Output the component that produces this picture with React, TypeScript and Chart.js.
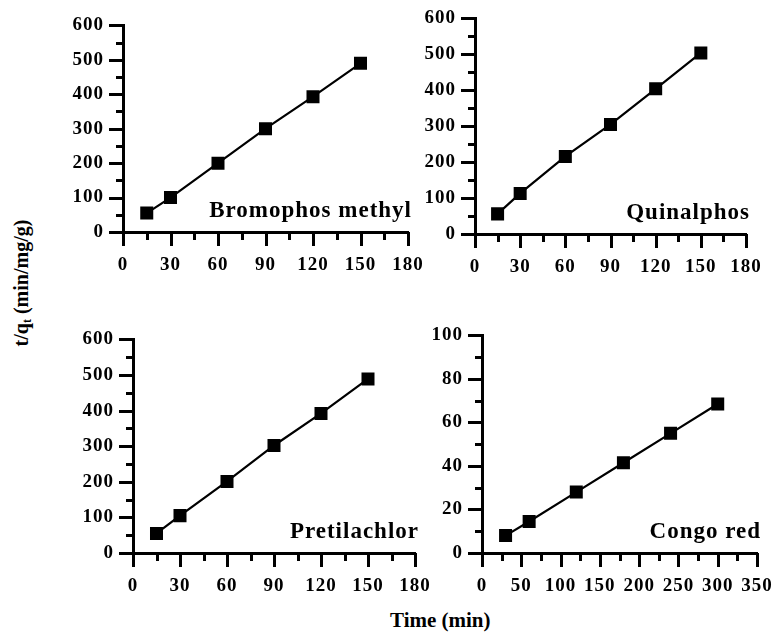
import React, { useEffect, useRef } from "react";
import { Chart, registerables } from "chart.js";

Chart.register(...registerables);

// ---- data ----
const timeShort = [15, 30, 60, 90, 120, 150];
const bromophosMethyl = [55, 100, 200, 300, 393, 490];
const quinalphos = [56, 113, 216, 305, 404, 504];
const pretilachlor = [55, 105, 201, 302, 392, 489];
const timeCongo = [30, 60, 120, 180, 240, 300];
const congoRed = [8, 14.5, 28, 41.5, 55, 68.5];

const panelLabels = ["Bromophos methyl", "Quinalphos", "Pretilachlor", "Congo red"];
const xTitle = "Time (min)";

const FONT = '"Liberation Serif", "Times New Roman", serif';

const YW = 64; // y scale width
const XH = 50; // x scale height
const PT = 14; // top padding
const PR = 24; // right padding

type PanelProps = {
  area: { l: number; r: number; t: number; b: number };
  label: string;
  xs: number[];
  ys: number[];
  xMax: number;
  xStep: number;
  xMajor: number;
  yMax: number;
  yStep: number;
  yMajor: number;
};

const isMajor = (v: number, m: number) => Math.abs(v / m - Math.round(v / m)) < 1e-6;

function Panel(p: PanelProps) {
  const ref = useRef<HTMLCanvasElement | null>(null);
  const w = Math.round(p.area.r - p.area.l + YW + PR);
  const h = Math.round(p.area.b - p.area.t + PT + XH);
  const left = Math.round(p.area.l - YW);
  const top = Math.round(p.area.t - PT);

  useEffect(() => {
    if (!ref.current) return;
    const extras = {
      id: "extras",
      beforeDraw(chart: any) {
        try {
          chart.ctx.letterSpacing = "1px";
        } catch (e) {}
      },
      afterDraw(chart: any) {
        const ctx = chart.ctx;
        const ca = chart.chartArea;
        const xs = chart.scales.x;
        const ys = chart.scales.y;
        ctx.save();
        ctx.strokeStyle = "#000";
        ctx.lineWidth = 3;
        ctx.lineCap = "butt";
        for (const t of xs.ticks) {
          const v = t.value;
          const len = isMajor(v, p.xMajor) ? 14 : 8;
          const px = Math.round(xs.getPixelForValue(v)) + 0.5;
          ctx.beginPath();
          ctx.moveTo(px, ca.bottom);
          ctx.lineTo(px, ca.bottom + len);
          ctx.stroke();
        }
        for (const t of ys.ticks) {
          const v = t.value;
          const len = isMajor(v, p.yMajor) ? 14 : 7;
          const py = Math.round(ys.getPixelForValue(v)) + 0.5;
          ctx.beginPath();
          ctx.moveTo(ca.left - len, py);
          ctx.lineTo(ca.left, py);
          ctx.stroke();
        }
        // panel label
        ctx.fillStyle = "#000";
        ctx.font = `bold 23px ${FONT}`;
        try {
          (ctx as any).letterSpacing = "1px";
        } catch (e) {}
        ctx.textAlign = "right";
        ctx.textBaseline = "alphabetic";
        ctx.fillText(p.label, ca.right + 4, ca.bottom - 15);
        ctx.restore();
      },
    };

    const tickFont = { family: FONT, size: 19, weight: "bold" as const };
    const chart = new Chart(ref.current, {
      type: "scatter",
      data: {
        datasets: [
          {
            data: p.xs.map((x, i) => ({ x, y: p.ys[i] })),
            showLine: true,
            borderColor: "#000",
            borderWidth: 2.2,
            backgroundColor: "#000",
            pointStyle: "rect",
            pointRadius: 9.2,
            pointBorderWidth: 0,
            pointBackgroundColor: "#000",
            tension: 0,
          },
        ],
      },
      options: {
        animation: false,
        responsive: false,
        devicePixelRatio: 1,
        layout: { padding: { top: PT, right: PR, left: 0, bottom: 0 } },
        plugins: { legend: { display: false }, tooltip: { enabled: false } },
        scales: {
          x: {
            type: "linear",
            min: 0,
            max: p.xMax,
            afterFit(scale: any) {
              scale.height = XH;
            },
            border: { display: true, width: 3, color: "#000" },
            grid: {
              drawOnChartArea: false,
              drawTicks: true,
              tickLength: 14,
              tickColor: "rgba(0,0,0,0)",
            },
            ticks: {
              stepSize: p.xStep,
              autoSkip: false,
              maxRotation: 0,
              padding: 8,
              color: "#000",
              font: tickFont,
              callback: (v: any) => (isMajor(Number(v), p.xMajor) ? String(v) : ""),
            },
          },
          y: {
            type: "linear",
            min: 0,
            max: p.yMax,
            afterFit(scale: any) {
              scale.width = YW;
            },
            border: { display: true, width: 3, color: "#000" },
            grid: {
              drawOnChartArea: false,
              drawTicks: true,
              tickLength: 14,
              tickColor: "rgba(0,0,0,0)",
            },
            ticks: {
              stepSize: p.yStep,
              autoSkip: false,
              padding: 5,
              color: "#000",
              font: tickFont,
              callback: (v: any) => (isMajor(Number(v), p.yMajor) ? String(v) : ""),
            },
          },
        },
      },
      plugins: [extras],
    });
    return () => chart.destroy();
  }, []);

  return (
    <canvas
      ref={ref}
      width={w}
      height={h}
      style={{ position: "absolute", left, top, width: w, height: h }}
    />
  );
}

export default function App() {
  return (
    <div
      style={{
        position: "fixed",
        left: 0,
        top: 0,
        width: 780,
        height: 636,
        background: "#fff",
        overflow: "hidden",
      }}
    >
      <Panel
        area={{ l: 123, r: 408, t: 23, b: 232 }}
        label={panelLabels[0]}
        xs={timeShort}
        ys={bromophosMethyl}
        xMax={180}
        xStep={15}
        xMajor={30}
        yMax={600}
        yStep={50}
        yMajor={100}
      />
      <Panel
        area={{ l: 475, r: 746, t: 16, b: 234 }}
        label={panelLabels[1]}
        xs={timeShort}
        ys={quinalphos}
        xMax={180}
        xStep={15}
        xMajor={30}
        yMax={600}
        yStep={50}
        yMajor={100}
      />
      <Panel
        area={{ l: 133, r: 415, t: 337, b: 553 }}
        label={panelLabels[2]}
        xs={timeShort}
        ys={pretilachlor}
        xMax={180}
        xStep={15}
        xMajor={30}
        yMax={600}
        yStep={50}
        yMajor={100}
      />
      <Panel
        area={{ l: 482, r: 757, t: 333, b: 553 }}
        label={panelLabels[3]}
        xs={timeCongo}
        ys={congoRed}
        xMax={350}
        xStep={25}
        xMajor={50}
        yMax={100}
        yStep={10}
        yMajor={20}
      />
      <div
        style={{
          position: "absolute",
          left: 22,
          top: 283,
          transform: "translate(-50%, -50%) rotate(-90deg)",
          whiteSpace: "nowrap",
          fontFamily: FONT,
          fontWeight: "bold",
          fontSize: 20,
          lineHeight: 1,
          color: "#000",
        }}
      >
        t/q<sub style={{ fontSize: "0.6em", verticalAlign: "-0.3em" }}>t</sub> (min/mg/g)
      </div>
      <div
        style={{
          position: "absolute",
          left: 390,
          top: 627,
          transform: "translateY(-80%)",
          whiteSpace: "nowrap",
          fontFamily: FONT,
          fontWeight: "bold",
          fontSize: 21,
          lineHeight: 1,
          color: "#000",
        }}
      >
        {xTitle}
      </div>
    </div>
  );
}
